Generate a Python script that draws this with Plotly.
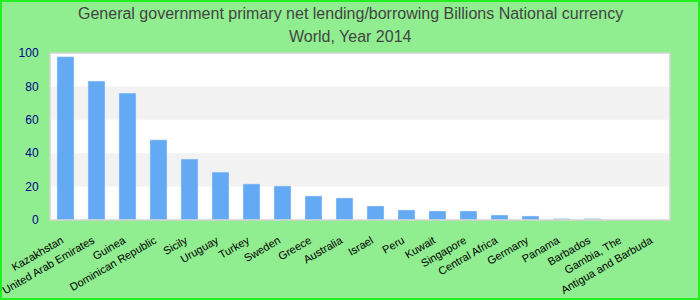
import plotly.graph_objects as go

countries = ["Kazakhstan", "United Arab Emirates", "Guinea", "Dominican Republic", "Sicily",
             "Uruguay", "Turkey", "Sweden", "Greece", "Australia", "Israel", "Peru", "Kuwait",
             "Singapore", "Central Africa", "Germany", "Panama", "Barbados", "Gambia, The",
             "Antigua and Barbuda"]
values = [97.8, 83.2, 76.0, 48.0, 36.5, 28.7, 21.6, 20.4, 14.4, 13.2, 8.4, 6.0, 5.4,
          5.4, 3.0, 2.4, 0.8, 0.8, 0.0, 0.0]
y_ticks = [0, 20, 40, 60, 80, 100]
title_lines = ["General government primary net lending/borrowing Billions National currency",
               "World, Year 2014"]

fig = go.Figure(go.Bar(x=countries, y=values, marker_color="#63a9f4", width=0.55))

shapes = []
for lo, hi in [(20, 40), (60, 80)]:
    shapes.append(dict(type="rect", xref="paper", yref="y", x0=0, x1=1, y0=lo, y1=hi,
                       fillcolor="#f2f2f2", line_width=0, layer="below"))
shapes.append(dict(type="rect", xref="paper", yref="paper", x0=0, x1=1, y0=0, y1=1,
                   line=dict(color="#d3d3d3", width=1.5), layer="above"))
shapes.append(dict(type="rect", xref="paper", yref="paper",
                   x0=-50/620 + 1/620, x1=650/620 - 1/620,
                   y0=-80/167 + 1/167, y1=(167 + 53)/167 - 1/167,
                   line=dict(color="#22ee22", width=2), layer="above"))

annotations = []
for i, t in enumerate(title_lines):
    annotations.append(dict(text=t, xref="paper", yref="paper",
                            x=300/620, y=(167 + 53 - 13 - 24*i)/167,
                            xanchor="center", yanchor="middle", showarrow=False,
                            font=dict(size=16, color="#444444")))

fig.update_layout(
    width=700, height=300,
    margin=dict(l=50, r=30, t=53, b=80),
    paper_bgcolor="#90ee90", plot_bgcolor="white",
    font=dict(family="Liberation Sans, Arial, sans-serif"),
    showlegend=False,
    bargap=0.45,
    shapes=shapes,
    annotations=annotations,
    xaxis=dict(tickangle=-30, tickfont=dict(size=11, color="black"), showgrid=False,
               ticks="outside", ticklen=4, tickcolor="rgba(0,0,0,0)",
               ticklabelshift=-4, ticklabelstandoff=5,
               showline=False, range=[-0.5, 19.5], automargin=False),
    yaxis=dict(range=[0, 100], tickvals=y_ticks, tickfont=dict(size=12, color="#00008b"),
               showgrid=False, zeroline=False, ticks="outside", ticklen=8,
               tickcolor="rgba(0,0,0,0)", automargin=False),
)

fig.write_html("out.html")
